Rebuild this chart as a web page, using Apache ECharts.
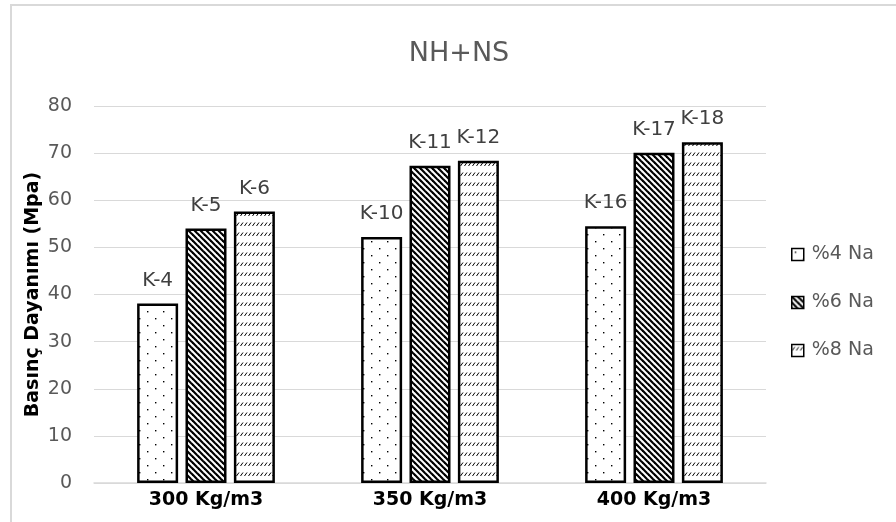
<!DOCTYPE html>
<html>
<head>
<meta charset="utf-8">
<script src="https://cdn.jsdelivr.net/npm/echarts@6/dist/echarts.min.js"></script>
<style>html,body{margin:0;padding:0;background:#fff}#c{width:896px;height:522px}</style>
</head>
<body>
<div id="c"></div>
<script>
var categories = ['300 Kg/m3', '350 Kg/m3', '400 Kg/m3'];
var seriesNames = ['%4 Na', '%6 Na', '%8 Na'];
var values4 = [38.1, 52.2, 54.5];
var values6 = [54.0, 67.3, 70.1];
var values8 = [57.6, 68.4, 72.3];
var labels4 = ['K-4', 'K-10', 'K-16'];
var labels6 = ['K-5', 'K-11', 'K-17'];
var labels8 = ['K-6', 'K-12', 'K-18'];
var yTicks = [0, 10, 20, 30, 40, 50, 60, 70, 80];

function makeCanvas(w, h, draw) {
  var c = document.createElement('canvas');
  c.width = w; c.height = h;
  var ctx = c.getContext('2d');
  ctx.fillStyle = '#fff'; ctx.fillRect(0, 0, w, h);
  draw(ctx);
  return c;
}
var dotPat = makeCanvas(16, 14, function (ctx) {
  ctx.fillStyle = '#000';
  ctx.fillRect(3, 3, 1.4, 1.4);
  ctx.fillRect(11, 10, 1.4, 1.4);
});
var diagPat = makeCanvas(6, 6, function (ctx) {
  ctx.strokeStyle = '#000'; ctx.lineWidth = 2.2;
  for (var k = -2; k <= 2; k++) {
    ctx.beginPath(); ctx.moveTo(k * 6 - 1, -1); ctx.lineTo(k * 6 + 7, 7); ctx.stroke();
  }
});
var dashPat = makeCanvas(4, 10, function (ctx) {
  ctx.strokeStyle = '#000'; ctx.lineWidth = 1;
  ctx.beginPath(); ctx.moveTo(0.5, 6); ctx.lineTo(3, 2.5); ctx.stroke();
});

var chart = echarts.init(document.getElementById('c'));
var font = '"DejaVu Sans", sans-serif';
function mk(name, vals, labs, pat) {
  return {
    name: name, type: 'bar', data: vals, barWidth: 41, barGap: '18%',
    itemStyle: { color: { image: pat, repeat: 'repeat' }, borderColor: '#000', borderWidth: 2.5 },
    label: {
      show: true, position: 'top', distance: 13, color: '#404040', fontSize: 20, fontFamily: font,
      formatter: function (p) { return labs[p.dataIndex]; }
    }
  };
}
chart.setOption({
  animation: false,
  backgroundColor: '#fff',
  graphic: [{ type: 'rect', shape: { x: 11, y: 5, width: 900, height: 540 }, style: { fill: 'none', stroke: '#d9d9d9', lineWidth: 2 } }],
  title: { text: 'NH+NS', left: 454, top: 35, textAlign: 'center',
    textStyle: { color: '#595959', fontSize: 27, fontWeight: 'normal', fontFamily: font } },
  legend: {
    orient: 'vertical', left: 786, top: 240, itemGap: 29, itemWidth: 12, itemHeight: 12,
    icon: 'rect',
    data: seriesNames,
    itemStyle: { borderColor: '#000', borderWidth: 1.5 },
    textStyle: { color: '#595959', fontSize: 19, fontFamily: font, padding: [0, 0, 0, 3] }
  },
  grid: { left: 94, right: 130, top: 106, bottom: 39 },
  xAxis: {
    type: 'category', data: categories,
    axisLine: { lineStyle: { color: '#d9d9d9', width: 1.5 } },
    axisTick: { show: false },
    axisLabel: { color: '#000', fontSize: 19, fontWeight: 'bold', fontFamily: font, margin: 8 }
  },
  yAxis: {
    type: 'value', min: 0, max: 80, interval: 10,
    name: 'Basınç Dayanımı (Mpa)', nameLocation: 'middle', nameGap: 51, nameMoveOverlap: false,
    nameTextStyle: { color: '#000', fontSize: 19, fontWeight: 'bold', fontFamily: font },
    axisLine: { show: false }, axisTick: { show: false },
    splitLine: { lineStyle: { color: '#d9d9d9', width: 1.2 } },
    axisLabel: { color: '#595959', fontSize: 19, fontFamily: font, margin: 22,
      formatter: function (v) { return yTicks.indexOf(v) >= 0 ? String(v) : ''; } }
  },
  series: [
    mk(seriesNames[0], values4, labels4, dotPat),
    mk(seriesNames[1], values6, labels6, diagPat),
    mk(seriesNames[2], values8, labels8, dashPat)
  ]
});
</script>
</body>
</html>
